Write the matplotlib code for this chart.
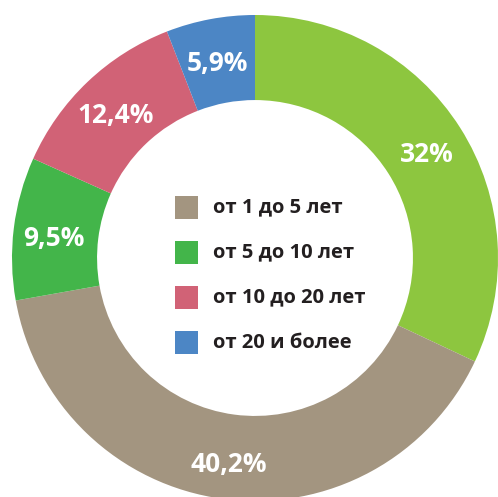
import numpy as np
import matplotlib.pyplot as plt
from matplotlib.patches import Rectangle

# work experience shares, clockwise from the top
shares = [32, 40.2, 9.5, 12.4, 5.9]
colors = ['#8DC63F', '#A39580', '#43B54A', '#D16276', '#4C86C5']
legend_labels = ['от 1 до 5 лет', 'от 5 до 10 лет', 'от 10 до 20 лет', 'от 20 и более']
legend_colors = colors[1:]

fig = plt.figure(figsize=(4.98, 4.97), dpi=100)
ax = fig.add_axes([0, 0, 1, 1])

cx, cy, R = 255, 239, 243
wedges, _ = ax.pie(shares, colors=colors, startangle=90, counterclock=False,
                   radius=R, center=(cx, cy), frame=True,
                   wedgeprops=dict(width=R * 0.35, linewidth=0))
ax.set_xlim(0, 498)
ax.set_ylim(0, 497)
ax.set_aspect('equal')
ax.axis('off')

for w, v in zip(wedges, shares):
    ang = np.deg2rad((w.theta1 + w.theta2) / 2)
    r = R * 0.835
    txt = '{:g}'.format(v).replace('.', ',') + '%'
    ax.text(cx + r * np.cos(ang), cy + r * np.sin(ang) - 5, txt, color='white',
            fontsize=19, fontweight='bold', family='Open Sans',
            ha='center', va='center')

# legend inside the hole
for i, (lab, c) in enumerate(zip(legend_labels, legend_colors)):
    y = 497 - (207 + i * 45.3)
    ax.add_patch(Rectangle((175, y - 11.5), 23, 23, facecolor=c, edgecolor='none'))
    ax.text(213, y, lab, color='#231F20', fontsize=14.5, fontweight='bold',
            family='Open Sans', ha='left', va='center')

fig.savefig('out.png', dpi=100)
